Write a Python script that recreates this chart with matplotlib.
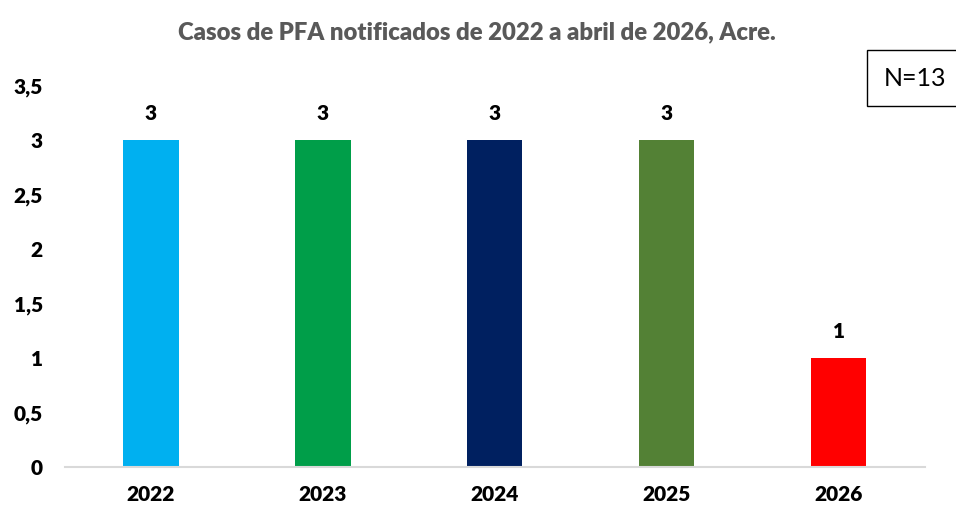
import matplotlib.pyplot as plt

anos = ['2022', '2023', '2024', '2025', '2026']
casos = [3, 3, 3, 3, 1]
cores = ['#00B0F0', '#009E49', '#002060', '#538135', '#FF0000']
yticks = [0, 0.5, 1, 1.5, 2, 2.5, 3, 3.5]
ytick_labels = ['0', '0,5', '1', '1,5', '2', '2,5', '3', '3,5']

plt.rcParams['font.family'] = ['Lato', 'DejaVu Sans']

fig = plt.figure(figsize=(9.56, 5.07), dpi=100)
ax = fig.add_axes([0.068, 0.079, 0.8995, 0.752])

x = range(len(anos))
bars = ax.bar(x, casos, width=0.32, color=cores)
for b, v in zip(bars, casos):
    ax.text(b.get_x() + b.get_width() / 2, v + 0.16, str(v), ha='center', va='bottom',
            fontsize=15, fontweight='heavy')

ax.set_xlim(-0.5, len(anos) - 0.5)
ax.set_ylim(0, 3.5)
ax.set_xticks(list(x))
ax.set_xticklabels(anos, fontsize=15, fontweight='heavy')
ax.set_yticks(yticks)
ax.set_yticklabels(ytick_labels, fontsize=15, fontweight='heavy')
ax.tick_params(length=0)
ax.tick_params(axis='x', pad=13)
ax.tick_params(axis='y', pad=16)
for s in ['top', 'right', 'left']:
    ax.spines[s].set_visible(False)
ax.spines['bottom'].set_color('#D9D9D9')
ax.spines['bottom'].set_linewidth(1.5)

fig.text(0.499, 0.937, 'Casos de PFA notificados de 2022 a abril de 2026, Acre.',
         ha='center', va='center', fontsize=17.2, fontweight='heavy', color='#595959')
fig.text(0.957, 0.846, 'N=13', ha='center', va='center', fontsize=18,
         bbox=dict(boxstyle='square,pad=0.66', facecolor='white', edgecolor='black', linewidth=1))

fig.savefig('out.png', dpi=100)
